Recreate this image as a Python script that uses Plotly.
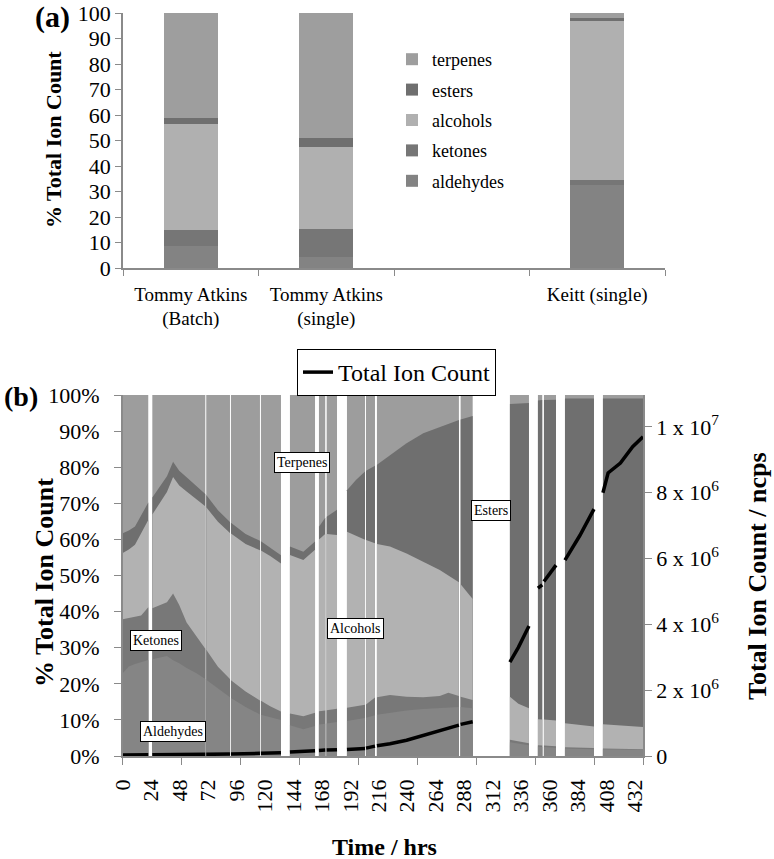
import plotly.graph_objects as go

# ---------------- Panel (a) data ----------------
categories = ["Tommy Atkins<br>(Batch)", "Tommy Atkins<br>(single)", " ", "Keitt (single)"]
aldehydes_a = [8.5, 4.2, None, 32.5]
ketones_a = [6.4, 11.1, None, 2.0]
alcohols_a = [41.5, 32.1, None, 62.2]
esters_a = [2.4, 3.6, None, 1.3]
terpenes_a = [41.2, 49.0, None, 2.0]

# ---------------- Panel (b) data ----------------
# time points (hrs); None marks a break in the record (white gaps)
hours = [0, 5, 10, 15, 20.8, None,
         24.1, 30, 36, 41, 46, 52, 60, 67.2, None,
         68, 77.5, 87.3, None,
         88.1, 100, 111.7, None,
         112.5, 120, 128.8, None,
         136.1, 147, 156.5, None,
         159.7, 164.8, None,
         166, 174.4, None,
         182.5, 190, 197.2, None,
         198, 205.3, None,
         206.9, 217.5, 231, 244.6, 258, 265, 273.6, None,
         275, 284.8, None,
         315.1, 322, 330.6, None,
         337.9, 341.4, None,
         342.8, 352.6, None,
         359.9, 372, 383.5, None,
         390.8, 395, 405, 415, 423.4]

# cumulative upper boundary of each class (% of total ion count)
aldehydes_top = [22.9, 24.8, 25.5, 26.0, 26.6, None,
                 26.8, 27.2, 27.7, 26.5, 25.7, 24.4, 22.9, 21.3, None,
                 21.1, 18.8, 16.3, None,
                 16.1, 13.6, 11.5, None,
                 11.4, 10.7, 10.0, None,
                 8.5, 7.4, 8.3, None,
                 8.7, 8.9, None,
                 9.0, 9.4, None,
                 9.7, 10.1, 10.5, None,
                 10.6, 11.3, None,
                 11.4, 12.0, 12.6, 13.0, 13.3, 13.5, 13.6, None,
                 13.6, 13.2, None,
                 3.8, 3.4, 3.0, None,
                 2.6, 2.5, None,
                 2.5, 2.3, None,
                 2.1, 2.0, 1.9, None,
                 1.9, 1.8, 1.8, 1.7, 1.7]
ketones_top = [37.9, 38.2, 38.5, 38.9, 41.2, None,
               40.9, 41.8, 42.6, 45.0, 41.8, 37.0, 33.1, 29.7, None,
               29.4, 24.7, 21.3, None,
               21.0, 17.9, 15.4, None,
               15.3, 13.8, 12.3, None,
               11.8, 11.0, 12.0, None,
               12.4, 12.6, None,
               12.7, 13.1, None,
               13.4, 13.8, 14.2, None,
               14.3, 16.2, None,
               16.3, 16.9, 16.4, 16.3, 16.6, 17.5, 16.6, None,
               16.4, 15.5, None,
               4.5, 4.0, 3.5, None,
               3.0, 2.9, None,
               2.9, 2.7, None,
               2.4, 2.3, 2.2, None,
               2.1, 2.1, 2.0, 2.0, 1.9]
alcohols_top = [56.2, 57.2, 58.5, 61.8, 65.4, None,
                66.9, 70.0, 73.1, 77.3, 74.9, 73.3, 71.2, 69.2, None,
                68.9, 64.9, 61.8, None,
                61.6, 58.7, 57.0, None,
                56.9, 55.4, 53.3, None,
                55.7, 54.3, 57.1, None,
                60.0, 61.5, None,
                61.5, 61.2, None,
                62.1, 61.0, 59.9, None,
                59.8, 58.9, None,
                58.7, 58.0, 56.1, 53.8, 51.5, 50.0, 48.1, None,
                47.6, 43.5, None,
                16.4, 14.5, 13.2, None,
                10.2, 10.1, None,
                10.1, 9.8, None,
                9.1, 8.6, 8.2, None,
                8.8, 8.7, 8.5, 8.2, 8.0]
esters_top = [61.7, 62.5, 63.6, 66.8, 70.2, None,
              71.6, 74.5, 77.5, 81.5, 79.0, 77.2, 74.8, 72.6, None,
              72.3, 68.1, 64.8, None,
              64.6, 61.5, 59.6, None,
              59.5, 57.8, 55.6, None,
              58.0, 56.6, 59.4, None,
              63.5, 66.0, None,
              66.3, 68.2, None,
              73.6, 76.5, 78.8, None,
              79.0, 80.4, None,
              80.7, 83.4, 86.6, 89.4, 91.2, 92.0, 93.1, None,
              93.2, 94.2, None,
              97.5, 97.7, 97.8, None,
              98.5, 98.6, None,
              98.6, 98.7, None,
              99.0, 99.0, 99.0, None,
              99.0, 99.0, 99.0, 99.0, 99.0]
# terpenes fill the rest of each record up to 100 %
terpenes_top = [None if h is None else 100 for h in hours]

# total ion count, millions of ncps
tic_millions = [0.03, 0.03, 0.03, 0.04, 0.04, None,
                0.04, 0.04, 0.04, 0.05, 0.05, 0.05, 0.05, 0.05, None,
                0.05, 0.06, 0.06, None,
                0.06, 0.07, 0.08, None,
                0.08, 0.09, 0.10, None,
                0.12, 0.14, 0.16, None,
                0.17, 0.18, None,
                0.18, 0.19, None,
                0.20, 0.21, 0.23, None,
                0.24, 0.30, None,
                0.31, 0.37, 0.48, 0.62, 0.76, 0.84, 0.94, None,
                0.96, 1.04, None,
                2.85, 3.30, 3.95, None,
                5.10, 5.20, None,
                5.30, 5.80, None,
                5.95, 6.70, 7.50, None,
                8.00, 8.60, 8.90, 9.40, 9.70]

x_tick_hours = [0, 48, 96, 144, 192, 240, 288, 336, 384, 423.4]
x_label_hours = list(range(0, 433, 24))
pct_ticks = list(range(0, 101, 10))
pct_ticktext = [f"{v}%" for v in pct_ticks]
tic_ticks = [0, 2, 4, 6, 8, 10]
tic_ticktext = ["0", "2 x 10<sup>6</sup>", "4 x 10<sup>6</sup>", "6 x 10<sup>6</sup>",
                "8 x 10<sup>6</sup>", "1 x 10<sup>7</sup>"]

FONT = "Liberation Serif, Times New Roman, serif"
AXC = "#8a8a8a"
W, H = 774, 859

col_a = {"aldehydes": "#838383", "ketones": "#767676", "alcohols": "#b0b0b0",
         "esters": "#6f6f6f", "terpenes": "#9e9e9e"}
col_b = {"aldehydes": "#858585", "ketones": "#787878", "alcohols": "#b2b2b2",
         "esters": "#6f6f6f", "terpenes": "#9d9d9d"}
legend_rank = {"terpenes": 1, "esters": 2, "alcohols": 3, "ketones": 4, "aldehydes": 5}


def segments(xs, ys):
    """split parallel lists at None breaks"""
    out, cx, cy = [], [], []
    for xv, yv in zip(xs, ys):
        if xv is None:
            if cx:
                out.append((cx, cy))
            cx, cy = [], []
        else:
            cx.append(xv)
            cy.append(yv)
    if cx:
        out.append((cx, cy))
    return out


def px(x):
    return x / W


def py(y):
    return 1 - y / H


fig = go.Figure()

# ---- panel (a): stacked bars ----
for name, vals in [("aldehydes", aldehydes_a), ("ketones", ketones_a),
                   ("alcohols", alcohols_a), ("esters", esters_a),
                   ("terpenes", terpenes_a)]:
    fig.add_trace(go.Bar(x=categories, y=vals, name=name, marker_color=col_a[name],
                         marker_line_width=0, legendgroup=name, legend="legend",
                         legendrank=legend_rank[name], xaxis="x", yaxis="y"))

# ---- panel (b): percentage areas, one filled piece per continuous record ----
for name, vals in [("terpenes", terpenes_top), ("esters", esters_top),
                   ("alcohols", alcohols_top), ("ketones", ketones_top),
                   ("aldehydes", aldehydes_top)]:
    for sx, sy in segments(hours, vals):
        fig.add_trace(go.Scatter(x=sx, y=sy, mode="lines", fill="tozeroy",
                                 fillcolor=col_b[name], line=dict(width=0, color=col_b[name]),
                                 showlegend=False, hoverinfo="skip",
                                 xaxis="x2", yaxis="y2"))

fig.add_trace(go.Scatter(x=hours, y=tic_millions, mode="lines", name="Total Ion Count",
                         line=dict(color="black", width=3.5), connectgaps=False,
                         legend="legend2", xaxis="x2", yaxis="y3"))
# carrier for the label axis
fig.add_trace(go.Scatter(x=[], y=[], xaxis="x3", yaxis="y2", showlegend=False))

ann = []


def add_note(text, x, y, size, angle=0):
    ann.append(dict(text=text, x=px(x), y=py(y), xref="paper", yref="paper",
                    xanchor="center", yanchor="middle", textangle=angle,
                    showarrow=False, font=dict(family=FONT, size=size, color="black")))


add_note("<b>(a)</b>", 52, 17, 30)
add_note("<b>(b)</b>", 21, 396, 28)
add_note("<b>% Total Ion Count</b>", 53, 140, 22, -90)
add_note("<b>% Total Ion Count</b>", 44, 583, 26, -90)
add_note("<b>Total Ion Count / ncps</b>", 757, 576, 26, -90)
add_note("<b>Time / hrs</b>", 384, 847, 24)

for txt, hx, hy in [("Terpenes", 145.9, 81.2), ("Ketones", 27.1, 32.1),
                    ("Alcohols", 189.8, 35.2), ("Aldehydes", 40.9, 6.9),
                    ("Esters", 299.7, 67.9)]:
    ann.append(dict(text=txt, x=hx, y=hy, xref="x2", yref="y2", showarrow=False,
                    xanchor="center", yanchor="middle",
                    bgcolor="white", bordercolor="black", borderwidth=1, borderpad=2,
                    font=dict(family=FONT, size=14, color="black")))

fig.update_layout(
    template="none",
    width=W, height=H, margin=dict(l=0, r=0, t=0, b=0, pad=0, autoexpand=False),
    paper_bgcolor="white", plot_bgcolor="white",
    font=dict(family=FONT, color="black", size=18),
    barmode="stack", bargap=0.6,
    annotations=ann,
    legend=dict(x=px(392), y=py(41), xanchor="left", yanchor="top",
                traceorder="grouped", tracegroupgap=4,
                font=dict(family=FONT, size=18), bgcolor="rgba(0,0,0,0)"),
    legend2=dict(x=px(297), y=py(349), xanchor="left", yanchor="top",
                 font=dict(family=FONT, size=24), bgcolor="white",
                 bordercolor="black", borderwidth=1, entrywidth=212),
    xaxis=dict(domain=[px(123), px(665)], anchor="y", type="category",
               categoryorder="array", categoryarray=categories,
               tickson="boundaries", ticks="outside", ticklen=6, tickcolor=AXC,
               showline=True, linecolor=AXC, linewidth=1.5, showgrid=False,
               automargin=False, tickfont=dict(family=FONT, size=19),
               ticklabelstandoff=8),
    yaxis=dict(domain=[py(268), py(13)], anchor="x", range=[0, 100], dtick=10,
               ticks="outside", ticklen=6, tickcolor=AXC, showline=True,
               linecolor=AXC, linewidth=1.5, showgrid=False, zeroline=False,
               automargin=False, ticklabeloverflow="allow",
               tickfont=dict(family=FONT, size=22)),
    xaxis2=dict(domain=[px(122.7), px(643)], anchor="y2", range=[0, 423.4],
                tickvals=x_tick_hours, showticklabels=False, ticks="outside",
                ticklen=7, tickcolor=AXC, showline=True, linecolor=AXC,
                linewidth=1.5, showgrid=False, zeroline=False, automargin=False),
    xaxis3=dict(overlaying="x2", anchor="y2", side="bottom", range=[0, 438.7],
                tickvals=x_label_hours, tickangle=-90, ticks="", showline=False,
                showgrid=False, zeroline=False, ticklabelstandoff=18,
                automargin=False, tickfont=dict(family=FONT, size=22)),
    yaxis2=dict(domain=[py(756), py(395)], anchor="x2", range=[0, 100],
                tickvals=pct_ticks, ticktext=pct_ticktext, ticks="outside",
                ticklen=7, tickcolor=AXC, showline=True, linecolor=AXC,
                linewidth=1.5, showgrid=False, zeroline=False, ticklabelstandoff=10,
                automargin=False, ticklabeloverflow="allow",
                tickfont=dict(family=FONT, size=22)),
    yaxis3=dict(overlaying="y2", anchor="x2", side="right", range=[0, 10.97],
                tickvals=tic_ticks, ticktext=tic_ticktext, ticks="outside",
                ticklen=7, tickcolor=AXC, showline=True, linecolor=AXC,
                linewidth=1.5, showgrid=False, zeroline=False, automargin=False,
                ticklabeloverflow="allow", tickfont=dict(family=FONT, size=22)),
)

# remove the default page margin so the figure sits at the window's corner
fig.write_html("out.html", config={"displayModeBar": False},
               post_script="document.body.style.margin='0';")
